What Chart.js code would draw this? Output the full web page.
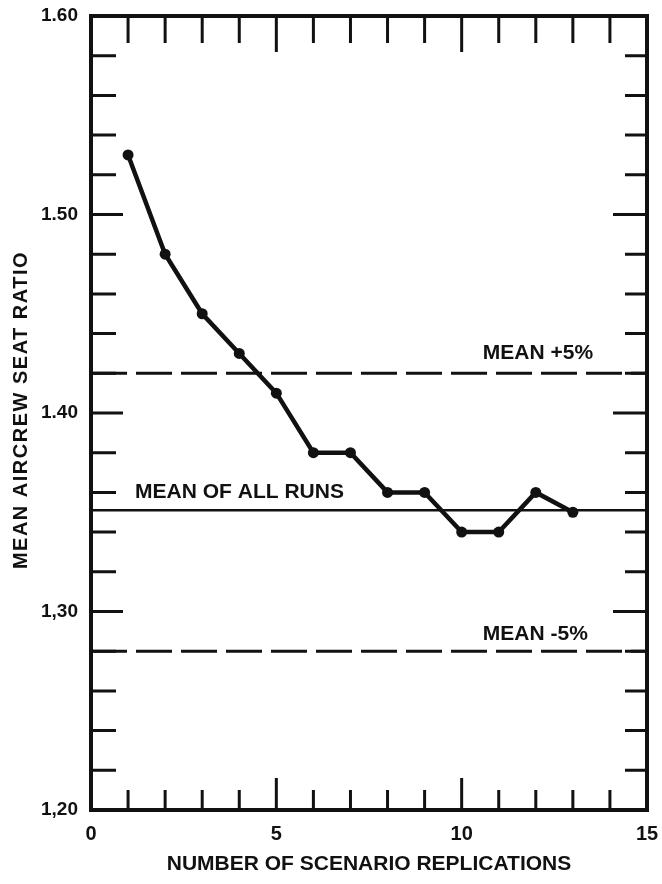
<!DOCTYPE html>
<html>
<head>
<meta charset="utf-8">
<title>Mean aircrew seat ratio vs number of scenario replications</title>
<script src="https://cdn.jsdelivr.net/npm/chart.js@4.4.1/dist/chart.umd.min.js"></script>
<style>
  html, body { margin: 0; padding: 0; background: #fff; }
  #wrap { position: relative; width: 662px; height: 884px; }
</style>
</head>
<body>
<div id="wrap"><canvas id="seatChart" width="662" height="884"></canvas></div>
<script>
// ---- values ----
const replications = [1, 2, 3, 4, 5, 6, 7, 8, 9, 10, 11, 12, 13];
const seatRatio = [1.53, 1.48, 1.45, 1.43, 1.41, 1.38, 1.38, 1.36, 1.36, 1.34, 1.34, 1.36, 1.35];
const meanAllRuns = 1.351;
const meanPlus5 = 1.420;
const meanMinus5 = 1.280;
const xRange = [0, 15];
const yRange = [1.20, 1.60];
const xTickLabels = ['0', '5', '10', '15'];            // every 5 replications
const yTickLabels = ['1,20', '1,30', '1.40', '1.50', '1.60']; // every 0.10
const refLabels = ['MEAN +5%', 'MEAN OF ALL RUNS', 'MEAN -5%'];
const xTitle = 'NUMBER OF SCENARIO REPLICATIONS';
const yTitle = 'MEAN AIRCREW SEAT RATIO';

const INK = '#111';
const BOLD = '"Liberation Sans", Arial, Helvetica, sans-serif';

// horizontal reference line from one edge of the x range to the other
function refLine(value) {
    return [{ x: xRange[0], y: value }, { x: xRange[1], y: value }];
}

// ----------------------------------------
// frame, inside tick marks, labels, titles
// ----------------------------------------
const paperPlugin = {
    id: 'paperPlugin',
    afterDatasetsDraw(chart) {
        const { ctx, chartArea: a } = chart;
        const xs = chart.scales.x;
        const ys = chart.scales.y;

        ctx.save();
        ctx.strokeStyle = INK;
        ctx.lineCap = 'butt';

        // inside tick marks
        ctx.lineWidth = 3;
        ys.ticks.forEach(t => {
            const v = Math.round(t.value * 100);
            if (v <= 120 || v >= 160) return;
            const major = v % 10 === 0;
            const py = ys.getPixelForValue(t.value);
            ctx.beginPath();
            ctx.moveTo(a.left, py);
            ctx.lineTo(a.left + (major ? 32 : 25), py);
            ctx.moveTo(a.right, py);
            ctx.lineTo(a.right - (major ? 34 : 22), py);
            ctx.stroke();
        });
        xs.ticks.forEach(t => {
            const v = Math.round(t.value);
            if (v <= xRange[0] || v >= xRange[1]) return;
            const major = v % 5 === 0;
            const px = xs.getPixelForValue(t.value);
            ctx.beginPath();
            ctx.moveTo(px, a.top);
            ctx.lineTo(px, a.top + (major ? 36 : 27));
            ctx.moveTo(px, a.bottom);
            ctx.lineTo(px, a.bottom - (major ? 32 : 20));
            ctx.stroke();
        });

        // frame
        ctx.lineWidth = 4;
        ctx.lineJoin = 'miter';
        ctx.strokeRect(a.left, a.top, a.right - a.left, a.bottom - a.top);

        // labels on the reference lines
        ctx.fillStyle = INK;
        ctx.font = 'bold 21px ' + BOLD;
        ctx.textAlign = 'left';
        ctx.textBaseline = 'alphabetic';
        const anchors = [[10.57, 1.427], [1.19, 1.357], [10.57, 1.2855]];
        refLabels.forEach((txt, i) => {
            ctx.fillText(txt, xs.getPixelForValue(anchors[i][0]), ys.getPixelForValue(anchors[i][1]));
        });

        // axis titles
        ctx.textAlign = 'center';
        ctx.textBaseline = 'middle';
        ctx.fillText(xTitle, (a.left + a.right) / 2, 864);

        ctx.translate(21, (a.top + a.bottom) / 2 - 3);
        ctx.rotate(-Math.PI / 2);
        ctx.font = 'bold 20px ' + BOLD;
        ctx.letterSpacing = '1.5px';
        ctx.fillText(yTitle, 0, 0);
        ctx.restore();
    }
};

new Chart(document.getElementById('seatChart'), {
    type: 'line',
    data: {
        datasets: [
            {
                label: 'Mean aircrew seat ratio',
                data: replications.map((x, i) => ({ x: x, y: seatRatio[i] })),
                borderColor: INK,
                backgroundColor: INK,
                borderWidth: 4.5,
                pointRadius: 5.5,
                pointBackgroundColor: INK,
                pointBorderWidth: 0,
                tension: 0
            },
            {
                label: 'Mean of all runs',
                data: refLine(meanAllRuns),
                borderColor: INK,
                borderWidth: 2.5,
                pointRadius: 0
            },
            {
                label: 'Mean +5%',
                data: refLine(meanPlus5),
                borderColor: INK,
                borderWidth: 3,
                borderDash: [36, 9],
                pointRadius: 0
            },
            {
                label: 'Mean -5%',
                data: refLine(meanMinus5),
                borderColor: INK,
                borderWidth: 3,
                borderDash: [36, 9],
                pointRadius: 0
            }
        ]
    },
    options: {
        responsive: false,
        animation: false,
        devicePixelRatio: 1,
        layout: { padding: { left: 0, top: 16, right: 15, bottom: 0 } },
        plugins: {
            legend: { display: false },
            tooltip: { enabled: false }
        },
        scales: {
            x: {
                type: 'linear',
                min: xRange[0],
                max: xRange[1],
                afterFit: s => {
                    s.height = 74;
                    s.paddingLeft = 0;
                    s.paddingRight = 0;
                },
                ticks: {
                    stepSize: 1,
                    autoSkip: false,
                    maxRotation: 0,
                    padding: 12,
                    color: INK,
                    font: { family: BOLD, size: 20, weight: 'bold' },
                    callback: v => (v % 5 === 0 ? xTickLabels[v / 5] : '')
                },
                grid: { display: false, drawTicks: false },
                border: { display: false }
            },
            y: {
                type: 'linear',
                min: yRange[0],
                max: yRange[1],
                afterFit: s => {
                    s.width = 91;
                    s.paddingTop = 0;
                    s.paddingBottom = 0;
                },
                ticks: {
                    stepSize: 0.02,
                    autoSkip: false,
                    padding: 13,
                    color: INK,
                    font: { family: BOLD, size: 19, weight: 'bold' },
                    callback: v => {
                        const c = Math.round(v * 100);
                        return c % 10 === 0 ? yTickLabels[(c - 120) / 10] : '';
                    }
                },
                grid: { display: false, drawTicks: false },
                border: { display: false }
            }
        }
    },
    plugins: [paperPlugin]
});
</script>
</body>
</html>
